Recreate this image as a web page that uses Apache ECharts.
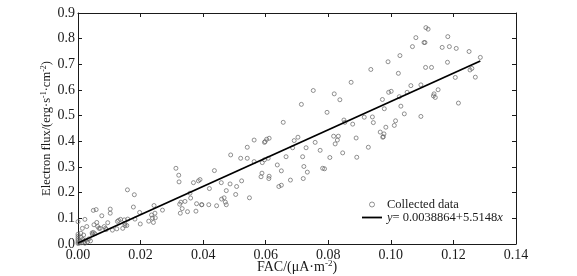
<!DOCTYPE html>
<html>
<head>
<meta charset="utf-8">
<script src="https://cdn.jsdelivr.net/npm/echarts@6/dist/echarts.min.js"></script>
<style>
  html, body { margin: 0; padding: 0; background: #fff; }
  #chart { width: 577px; height: 276px; }
</style>
</head>
<body>
<div id="chart"></div>
<script>
// collected points: [FAC, electron flux]
var collected = [
  [0, 0.002], [0, 0.008], [0, 0.015], [0, 0.022], [0, 0.030], [0, 0.038],
  [0.0005, 0.004], [0.0008, 0.012], [0.001, 0.026], [0.0012, 0.005], [0.0015, 0.018],
  [0.002, 0.010], [0.0022, 0.003], [0.0025, 0.015], [0.003, 0.008], [0.0018, 0.035],
  [0.0009, 0.042], [0.0035, 0.020], [0.004, 0.012],
  [0.0045, 0.043], [0.0049, 0.045], [0.0054, 0.040], [0.0046, 0.038],
  [0.0000, 0.087], [0.0014, 0.061], [0.0022, 0.096], [0.0028, 0.068],
  [0.0049, 0.131], [0.0058, 0.134], [0.0103, 0.136], [0.0103, 0.120], [0.0076, 0.110],
  [0.0051, 0.075], [0.0060, 0.084], [0.0063, 0.068], [0.0067, 0.061], [0.0071, 0.061],
  [0.0084, 0.068], [0.0088, 0.061], [0.0090, 0.056], [0.0095, 0.083], [0.0110, 0.054],
  [0.0124, 0.059], [0.0126, 0.088], [0.0130, 0.092], [0.0136, 0.096], [0.0143, 0.061],
  [0.0148, 0.094], [0.0150, 0.079], [0.0156, 0.072], [0.0150, 0.072], [0.0159, 0.097],
  [0.0158, 0.211], [0.0180, 0.192], [0.0177, 0.144], [0.0182, 0.097], [0.0197, 0.123], [0.0199, 0.078],
  [0.0226, 0.089], [0.0241, 0.084], [0.0235, 0.113], [0.0238, 0.101], [0.0247, 0.102],
  [0.0243, 0.150], [0.0246, 0.120], [0.0270, 0.132],
  [0.0313, 0.295], [0.0322, 0.268], [0.0323, 0.242], [0.0369, 0.239], [0.0385, 0.246], [0.0390, 0.251],
  [0.0358, 0.198], [0.0360, 0.179], [0.0342, 0.166], [0.0329, 0.163], [0.0325, 0.155],
  [0.0333, 0.138], [0.0327, 0.120], [0.0350, 0.126], [0.0377, 0.128], [0.0379, 0.157], [0.0395, 0.153],
  [0.0656, 0.474], [0.0563, 0.405], [0.0611, 0.412], [0.0603, 0.408], [0.0598, 0.399], [0.0596, 0.396],
  [0.0541, 0.377], [0.0488, 0.347], [0.0520, 0.334], [0.0541, 0.334], [0.0563, 0.321],
  [0.0589, 0.317], [0.0596, 0.328], [0.0608, 0.334],
  [0.0703, 0.416], [0.0691, 0.403], [0.0686, 0.375], [0.0729, 0.375], [0.0758, 0.396], [0.0774, 0.365],
  [0.0796, 0.513], [0.0805, 0.337], [0.0665, 0.340], [0.0718, 0.340], [0.0637, 0.308], [0.0650, 0.285],
  [0.0722, 0.302], [0.0733, 0.280], [0.0782, 0.295], [0.0788, 0.293],
  [0.0588, 0.276], [0.0585, 0.262], [0.0611, 0.264], [0.0610, 0.255], [0.0679, 0.249], [0.0720, 0.255],
  [0.0642, 0.224], [0.0650, 0.229],
  [0.0436, 0.286], [0.0523, 0.246], [0.0507, 0.224], [0.0486, 0.234], [0.0458, 0.239], [0.0420, 0.216],
  [0.0474, 0.208], [0.0504, 0.193], [0.0548, 0.180], [0.0467, 0.180], [0.0459, 0.175], [0.0471, 0.163],
  [0.0474, 0.153], [0.0443, 0.149], [0.0418, 0.153], [0.0396, 0.153],
  [0.0991, 0.710], [0.0936, 0.680], [0.1024, 0.665], [0.1111, 0.688], [0.1130, 0.688], [0.0873, 0.630],
  [0.0819, 0.585], [0.0837, 0.562], [0.0752, 0.598], [0.0714, 0.544],
  [0.1064, 0.617], [0.1096, 0.620], [0.1001, 0.595], [0.0993, 0.591], [0.1052, 0.591], [0.1151, 0.601],
  [0.1138, 0.585], [0.1136, 0.577], [0.1142, 0.571], [0.1027, 0.574], [0.0973, 0.563], [0.0979, 0.527],
  [0.1032, 0.537], [0.1043, 0.507], [0.1096, 0.497], [0.0915, 0.494], [0.0941, 0.495], [0.0944, 0.473],
  [0.1015, 0.480], [0.1011, 0.462], [0.0984, 0.455], [0.0850, 0.483], [0.0853, 0.474], [0.0878, 0.467],
  [0.0966, 0.436], [0.0978, 0.429], [0.0976, 0.418], [0.0974, 0.416], [0.0817, 0.420], [0.0832, 0.420],
  [0.0829, 0.405], [0.0822, 0.390], [0.0889, 0.413], [0.0928, 0.377], [0.0846, 0.355], [0.0891, 0.338],
  [0.1112, 0.843], [0.1119, 0.837], [0.1080, 0.804], [0.1182, 0.808], [0.1069, 0.769], [0.1106, 0.785],
  [0.1109, 0.785], [0.1164, 0.766], [0.1187, 0.769], [0.1209, 0.762], [0.1250, 0.750], [0.1029, 0.734],
  [0.1286, 0.727], [0.1181, 0.708], [0.1259, 0.684], [0.1253, 0.678], [0.1206, 0.649], [0.1270, 0.650],
  [0.1216, 0.549]
];

// linear fit y = a + b x
var fitIntercept = 0.0038864;
var fitSlope = 5.5148;
var fitRange = [0, 0.1286];

var xTicks = [0, 0.14, 0.02];   // min, max, step
var yTicks = [0, 0.9, 0.1];

var fitLine = fitRange.map(function (x) { return [x, fitIntercept + fitSlope * x]; });

var font = '"Liberation Serif", "Times New Roman", serif';
var ink = '#1a1a1a';

function axisBase(ticks, pos) {
  return {
    type: 'value',
    position: pos,
    min: ticks[0], max: ticks[1], interval: ticks[2],
    axisLine: { show: true, onZero: false, lineStyle: { color: ink, width: 1 } },
    axisTick: { show: true, inside: true, length: 4, lineStyle: { color: ink } },
    splitLine: { show: false },
    axisLabel: { show: false }
  };
}

var xMain = axisBase(xTicks, 'bottom');
xMain.axisLabel = {
  show: true, margin: 4, fontFamily: font, fontSize: 14, color: ink,
  formatter: function (v) { return v.toFixed(2); }
};
xMain.name = 'FAC/(\u03bcA\u00b7m{sup|-2})';
xMain.nameLocation = 'middle';
xMain.nameGap = 16;
xMain.nameMoveOverlap = false;
xMain.nameTextStyle = {
  fontFamily: font, fontSize: 14, color: ink,
  rich: { sup: { fontFamily: font, fontSize: 9, color: ink, lineHeight: 9, padding: [0, 0, 7, 0] } }
};

var yMain = axisBase(yTicks, 'left');
yMain.axisLabel = {
  show: true, margin: 3, fontFamily: font, fontSize: 14, color: ink,
  formatter: function (v) { return v.toFixed(1); }
};
yMain.name = 'Electron flux/(erg\u00b7s{sup|-1}\u00b7cm{sup|-2})';
yMain.nameLocation = 'middle';
yMain.nameGap = 25;
yMain.nameMoveOverlap = false;
yMain.nameTextStyle = {
  fontFamily: font, fontSize: 12.5, color: ink,
  rich: { sup: { fontFamily: font, fontSize: 8, color: ink, lineHeight: 8, padding: [0, 0, 6, 0] } }
};

var option = {
  backgroundColor: '#fff',
  animation: false,
  grid: { left: 78, right: 61, top: 13, bottom: 32, outerBoundsMode: 'none' },
  xAxis: [xMain, axisBase(xTicks, 'top')],
  yAxis: [yMain, axisBase(yTicks, 'right')],
  legend: {
    orient: 'vertical',
    left: 362, top: 198, padding: 0,
    itemWidth: 20, itemHeight: 5, itemGap: 0,
    textStyle: {
      fontFamily: font, fontSize: 12.5, color: ink, lineHeight: 13,
      rich: { i: { fontFamily: font, fontSize: 12.5, fontStyle: 'italic', color: ink, lineHeight: 13 } }
    },
    formatter: function (name) {
      if (name === 'fit') return '{i|y}= ' + fitIntercept + '+' + fitSlope + '{i|x}';
      return name;
    },
    data: [
      { name: 'Collected data', icon: 'circle',
        itemStyle: { color: 'rgba(0,0,0,0)', borderColor: '#666', borderWidth: 0.9 } },
      { name: 'fit', icon: 'path://M0,0H20V1.8H0Z', itemStyle: { color: '#000' } }
    ]
  },
  series: [{
    name: 'Collected data',
    type: 'scatter',
    symbol: 'circle',
    symbolSize: 4,
    itemStyle: { color: 'rgba(0,0,0,0)', borderColor: '#666', borderWidth: 0.9 },
    data: collected
  }, {
    name: 'fit',
    type: 'line',
    symbol: 'none',
    z: 3,
    lineStyle: { color: '#000', width: 1.8 },
    itemStyle: { color: '#000' },
    data: fitLine
  }]
};

var chart = echarts.init(document.getElementById('chart'));
chart.setOption(option);
</script>
</body>
</html>
